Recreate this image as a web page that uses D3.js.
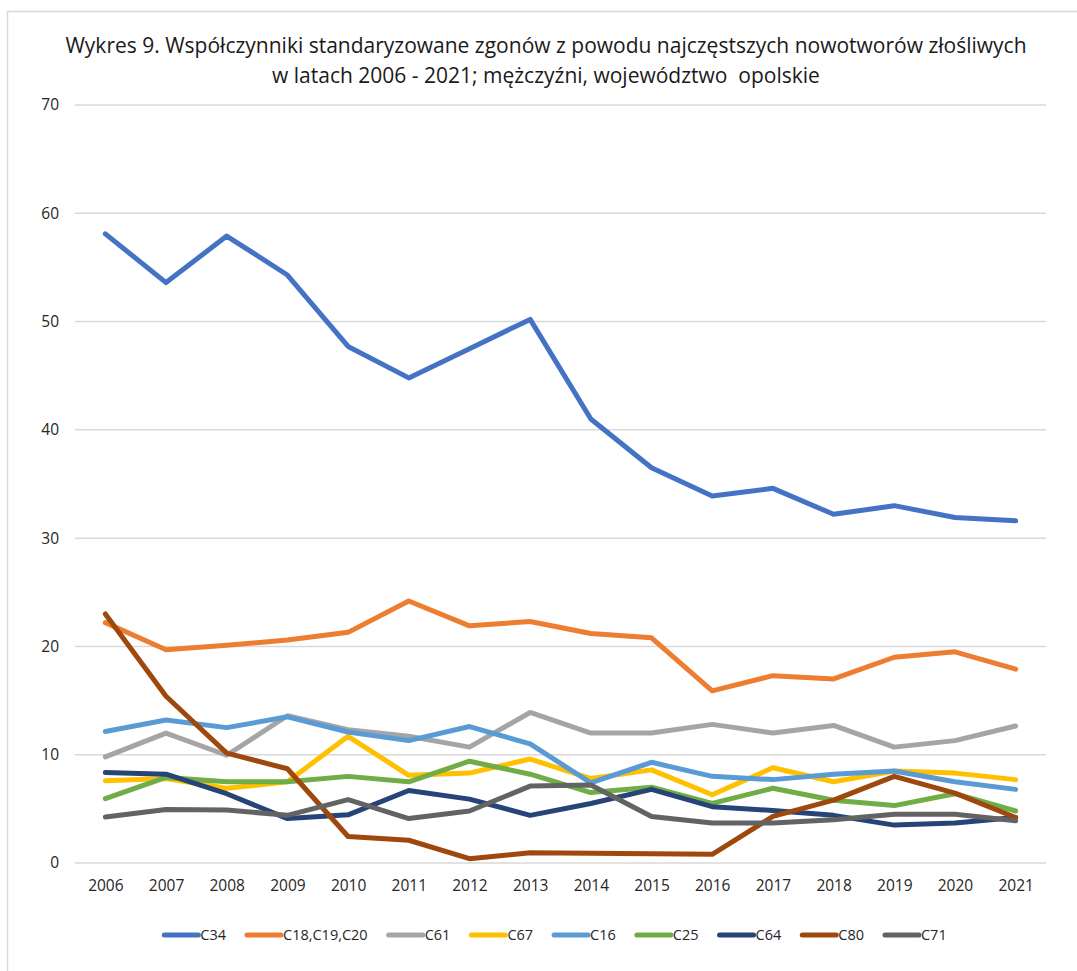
<!DOCTYPE html>
<html>
<head>
<meta charset="utf-8">
<script src="https://cdn.jsdelivr.net/npm/d3@7"></script>
<style>
  body { margin: 0; background: #fff; }
  svg { display: block; font-family: "Open Sans", sans-serif; }
</style>
</head>
<body>
<svg id="chart"></svg>
<script>
const years = ["2006", "2007", "2008", "2009", "2010", "2011", "2012", "2013", "2014", "2015", "2016", "2017", "2018", "2019", "2020", "2021"];
const yTicks = [0, 10, 20, 30, 40, 50, 60, 70];

const c34 = [58.1, 53.6, 57.9, 54.3, 47.7, 44.8, 47.5, 50.2, 41.0, 36.5, 33.9, 34.6, 32.2, 33.0, 31.9, 31.6];
const c18 = [22.2, 19.7, 20.1, 20.6, 21.3, 24.2, 21.9, 22.3, 21.2, 20.8, 15.9, 17.3, 17.0, 19.0, 19.5, 17.9];
const c61 = [9.8, 12.0, 9.95, 13.6, 12.3, 11.7, 10.7, 13.9, 12.0, 12.0, 12.8, 12.0, 12.7, 10.7, 11.3, 12.65];
const c67 = [7.6, 7.8, 6.9, 7.5, 11.7, 8.1, 8.3, 9.6, 7.8, 8.6, 6.3, 8.8, 7.5, 8.5, 8.3, 7.7];
const c16 = [12.15, 13.2, 12.5, 13.5, 12.1, 11.3, 12.6, 11.0, 7.4, 9.3, 8.0, 7.7, 8.2, 8.5, 7.5, 6.8];
const c25 = [5.95, 7.9, 7.5, 7.5, 8.0, 7.5, 9.4, 8.2, 6.5, 7.0, 5.5, 6.9, 5.8, 5.3, 6.4, 4.8];
const c64 = [8.35, 8.2, 6.4, 4.1, 4.45, 6.7, 5.9, 4.4, 5.5, 6.8, 5.2, 4.85, 4.4, 3.5, 3.7, 4.2];
const c80 = [23.0, 15.4, 10.15, 8.7, 2.45, 2.1, 0.4, 0.95, 0.9, 0.85, 0.8, 4.3, 5.8, 8.0, 6.45, 4.2];
const c71 = [4.25, 4.95, 4.9, 4.4, 5.85, 4.1, 4.8, 7.1, 7.2, 4.3, 3.7, 3.7, 4.0, 4.5, 4.5, 3.9];

const seriesNames = ["C34", "C18,C19,C20", "C61", "C67", "C16", "C25", "C64", "C80", "C71"];
const seriesValues = [c34, c18, c61, c67, c16, c25, c64, c80, c71];
const seriesColors = ["#4472C4", "#ED7D31", "#A5A5A5", "#FFC000", "#5B9BD5", "#70AD47", "#264478", "#9E480E", "#636363"];

const width = 1077;
const height = 971;
const margin = { top: 105, right: 31, bottom: 108, left: 75 };

const svg = d3.select("#chart")
    .attr("width", width)
    .attr("height", height);

// chart area frame
svg.append("rect")
    .attr("x", 7.5)
    .attr("y", 11.5)
    .attr("width", 1100)
    .attr("height", 1000)
    .attr("fill", "#fff")
    .attr("stroke", "#D9D9D9")
    .attr("stroke-width", 1.5);

const x = d3.scalePoint()
    .domain(years)
    .range([margin.left, width - margin.right])
    .padding(0.5);

const y = d3.scaleLinear()
    .domain([0, 70])
    .range([height - margin.bottom, margin.top]);

// title
const title = svg.append("text")
    .attr("text-anchor", "middle")
    .attr("xml:space", "preserve")
    .style("white-space", "pre")
    .style("font-size", "21px")
    .style("fill", "#1a1a1a");
title.append("tspan")
    .attr("x", 546)
    .attr("y", 53)
    .text("Wykres 9. Współczynniki standaryzowane zgonów z powodu najczęstszych nowotworów złośliwych");
title.append("tspan")
    .attr("x", 546)
    .attr("y", 83)
    .text("w latach 2006 - 2021; mężczyźni, województwo  opolskie");

// grid
svg.append("g")
    .selectAll("line")
    .data(yTicks)
    .enter()
    .append("line")
    .attr("x1", margin.left)
    .attr("x2", width - margin.right)
    .attr("y1", d => y(d))
    .attr("y2", d => y(d))
    .attr("stroke", "#D9D9D9")
    .attr("stroke-width", 1.5);

const yAxis = svg.append("g")
    .attr("transform", `translate(${margin.left}, 0)`)
    .call(d3.axisLeft(y).tickValues(yTicks).tickSize(0).tickPadding(16));
yAxis.select(".domain").remove();
yAxis.selectAll("text")
    .style("font-size", "15.5px")
    .style("font-family", "'Open Sans', sans-serif")
    .style("fill", "#262626");

const xAxis = svg.append("g")
    .attr("transform", `translate(0, ${height - margin.bottom})`)
    .call(d3.axisBottom(x).tickSize(0).tickPadding(17));
xAxis.select(".domain").remove();
xAxis.selectAll("text")
    .style("font-size", "15.5px")
    .style("font-family", "'Open Sans', sans-serif")
    .style("fill", "#262626");

const line = d3.line()
    .x((d, i) => x(years[i]))
    .y(d => y(d));

const seriesData = seriesNames.map((name, i) => ({ name, values: seriesValues[i], color: seriesColors[i] }));

svg.append("g")
    .selectAll("path")
    .data(seriesData)
    .enter()
    .append("path")
    .attr("d", d => line(d.values))
    .attr("fill", "none")
    .attr("stroke", d => d.color)
    .attr("stroke-width", 5)
    .attr("stroke-linejoin", "round")
    .attr("stroke-linecap", "round");

// legend
const legend = svg.append("g");
let lx = 0;
seriesData.forEach(d => {
    const item = legend.append("g").attr("transform", `translate(${lx}, 0)`);
    item.append("line")
        .attr("x1", 2).attr("x2", 36)
        .attr("y1", 0).attr("y2", 0)
        .attr("stroke", d.color)
        .attr("stroke-width", 5)
        .attr("stroke-linecap", "round");
    const t = item.append("text")
        .attr("x", 38)
        .attr("y", 5)
        .style("font-size", "14.5px")
        .style("fill", "#262626")
        .text(d.name);
    lx += 38 + t.node().getComputedTextLength() + 19;
});
lx -= 19;
legend.attr("transform", `translate(${(width - lx) / 2 + 16}, 935)`);
</script>
</body>
</html>
